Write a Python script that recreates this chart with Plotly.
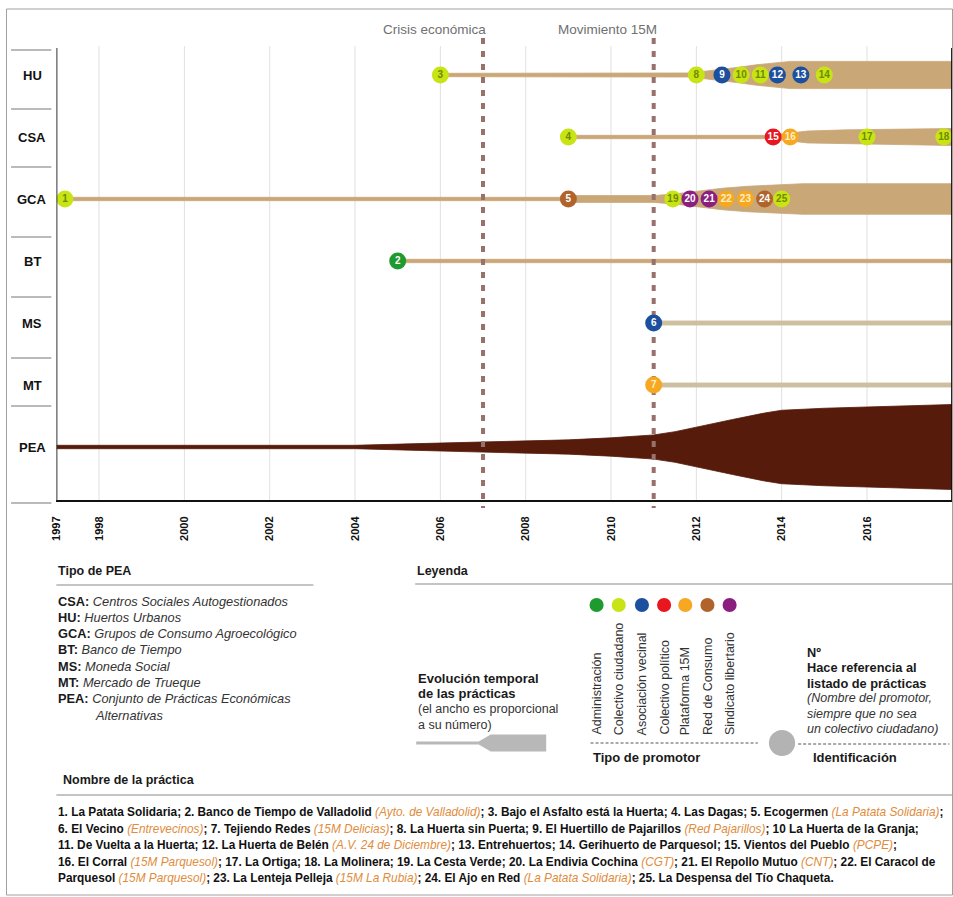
import plotly.graph_objects as go

W, H = 953, 897
FONT = "Liberation Sans, Arial, Helvetica, sans-serif"

# ---------------- data ----------------
rows = ["HU", "CSA", "GCA", "BT", "MS", "MT", "PEA"]
tick_years = [1997, 1998, 2000, 2002, 2004, 2006, 2008, 2010, 2012, 2014, 2016, 2018]
grid_years = [1998, 2000, 2002, 2004, 2006, 2008, 2010, 2012, 2014, 2016]
event_names = ["Crisis económica", "Movimiento 15M"]
event_years = [2007, 2011]

promoter_types = ["Administración", "Colectivo ciudadano", "Asociación vecinal",
                  "Colectivo político", "Plataforma 15M", "Red de Consumo",
                  "Sindicato libertario"]
promoter_colors = ["#1f9a2e", "#c8e414", "#1c4f9e", "#e8161f", "#f6a823",
                   "#b0642c", "#8b1f7f"]

practice_ids = list(range(1, 26))
practice_rows = ["GCA", "BT", "HU", "CSA", "GCA", "MS", "MT", "HU", "HU", "HU",
                 "HU", "HU", "HU", "HU", "CSA", "CSA", "CSA", "CSA", "GCA", "GCA",
                 "GCA", "GCA", "GCA", "GCA", "GCA"]
practice_years = [1997.2, 2005.0, 2006.0, 2009.0, 2009.0, 2011.0, 2011.0, 2012.0,
                  2012.6, 2013.05, 2013.5, 2013.9, 2014.45, 2015.0, 2013.8, 2014.2,
                  2016.0, 2017.8, 2011.45, 2011.85, 2012.3, 2012.7, 2013.15, 2013.6,
                  2014.0]
practice_promoters = [1, 0, 1, 1, 5, 2, 4, 1, 2, 1, 1, 2, 2, 1, 3, 4, 1, 1, 1, 6,
                      6, 4, 4, 5, 1]

# band profiles: year -> number of practices (band width)
hu_years = [2006, 2011.8, 2012.2, 2012.6, 2013.0, 2013.4, 2013.8, 2014.2, 2018]
hu_width = [1, 1.2, 2.2, 3.3, 4.6, 6.0, 7.2, 8.0, 8.0]
csa_years = [2009, 2013.7, 2014.1, 2014.6, 2015.5, 2016.5, 2018]
csa_width = [1, 1, 2, 3.5, 4.2, 4.5, 5]
gca_years = [1997.2, 2009, 2009.01, 2011.0, 2011.5, 2012.0, 2012.6, 2013.2, 2014.0, 2014.5, 2018]
gca_width = [1, 1, 2, 2, 3, 4.5, 6.3, 7.5, 8.5, 9, 9]
bt_years = [2005, 2018]
bt_width = [1, 1]
ms_years = [2011, 2018]
ms_width = [1.2, 1.2]
mt_years = [2011, 2018]
mt_width = [1.2, 1.2]
pea_years = [1997, 2004, 2005.5, 2007, 2008, 2009, 2010, 2011, 2011.5, 2012,
             2012.85, 2013.6, 2014, 2015, 2016, 2018]
pea_width = [1, 1, 2, 3, 3.4, 4.2, 5.4, 7.1, 9, 11.8, 16.2, 20, 21.6, 22.8, 23.5, 25]

tipo_pea = [("CSA", "Centros Sociales Autogestionados"),
            ("HU", "Huertos Urbanos"),
            ("GCA", "Grupos de Consumo Agroecológico"),
            ("BT", "Banco de Tiempo"),
            ("MS", "Moneda Social"),
            ("MT", "Mercado de Trueque"),
            ("PEA", "Conjunto de Prácticas Económicas")]

OR = "<span style='color:#e08c3c'><i>%s</i></span>"
practice_lines = [
    "<b>1. La Patata Solidaria; 2. Banco de Tiempo de Valladolid </b>" + OR % "(Ayto. de Valladolid)" +
    "<b>; 3. Bajo el Asfalto está la Huerta; 4. Las Dagas; 5. Ecogermen </b>" + OR % "(La Patata Solidaria)" + "<b>;</b>",
    "<b>6. El Vecino </b>" + OR % "(Entrevecinos)" + "<b>; 7. Tejiendo Redes </b>" + OR % "(15M Delicias)" +
    "<b>; 8. La Huerta sin Puerta; 9. El Huertillo de Pajarillos </b>" + OR % "(Red Pajarillos)" +
    "<b>; 10 La Huerta de la Granja;</b>",
    "<b>11. De Vuelta a la Huerta; 12. La Huerta de Belén </b>" + OR % "(A.V. 24 de Diciembre)" +
    "<b>; 13. Entrehuertos; 14. Gerihuerto de Parquesol; 15. Vientos del Pueblo </b>" + OR % "(PCPE)" + "<b>;</b>",
    "<b>16. El Corral </b>" + OR % "(15M Parquesol)" + "<b>; 17. La Ortiga; 18. La Molinera; 19. La Cesta Verde; 20. La Endivia Cochina </b>" +
    OR % "(CGT)" + "<b>; 21. El Repollo Mutuo </b>" + OR % "(CNT)" + "<b>; 22. El Caracol de</b>",
    "<b>Parquesol </b>" + OR % "(15M Parquesol)" + "<b>; 23. La Lenteja Pelleja </b>" + OR % "(15M La Rubia)" +
    "<b>; 24. El Ajo en Red </b>" + OR % "(La Patata Solidaria)" + "<b>; 25. La Despensa del Tío Chaqueta.</b>",
]

# ---------------- helpers ----------------
SX, OX = 0.986, 7.0           # horizontal correction of the photographed page


def px(x):
    return min(max((x - OX) / SX, 0.5), W - 0.5) / W


def py(y):
    return 1 - y / H


ROW0, STEP = 75, 62           # pixel row of HU and row spacing
def row_y(p):
    return (p - ROW0) / STEP


HALF = 3.4 / STEP / 2         # half band width per practice (in row units)
BAND = "#caa777"
BAND_LIGHT = "#cdbf9f"
PEA_COL = "#561b0b"

fig = go.Figure()

bands = [("HU", hu_years, hu_width, BAND), ("CSA", csa_years, csa_width, BAND),
         ("GCA", gca_years, gca_width, BAND), ("BT", bt_years, bt_width, BAND),
         ("MS", ms_years, ms_width, BAND_LIGHT), ("MT", mt_years, mt_width, BAND_LIGHT),
         ("PEA", pea_years, pea_width, PEA_COL)]
for name, yrs, wid, col in bands:
    r = rows.index(name)
    xs = list(yrs) + list(yrs)[::-1]
    ys = [r - w * HALF for w in wid] + [r + w * HALF for w in wid[::-1]]
    fig.add_trace(go.Scatter(x=xs, y=ys, mode="lines", fill="toself", fillcolor=col,
                             line=dict(color=col, width=0.8), hoverinfo="skip",
                             showlegend=False))

for yr in event_years:
    fig.add_trace(go.Scatter(x=[yr, yr], y=[row_y(38), row_y(508)], mode="lines",
                             line=dict(color="#97716a", width=4, dash="6px,7px"),
                             hoverinfo="skip", showlegend=False))

text_cols = []
for p in practice_promoters:
    if p == 1:
        text_cols.append("#6f8a00")
    elif p == 4:
        text_cols.append("#fff0c0")
    else:
        text_cols.append("#ffffff")

fig.add_trace(go.Scatter(
    x=practice_years, y=[rows.index(r) for r in practice_rows],
    mode="markers+text",
    marker=dict(size=17, color=[promoter_colors[p] for p in practice_promoters],
                line=dict(width=0)),
    text=[f"<b>{i}</b>" for i in practice_ids], textposition="middle center",
    textfont=dict(size=10, family=FONT, color=text_cols),
    hoverinfo="skip", showlegend=False))

shapes = []
# grid lines
for g in grid_years:
    shapes.append(dict(type="line", xref="x", yref="paper", x0=g, x1=g, y0=py(501), y1=py(46),
                       line=dict(color="#e0e0e0", width=1), layer="below"))
# frame lines of chart
shapes.append(dict(type="line", xref="x", yref="paper", x0=1997, x1=1997, y0=py(501), y1=py(48),
                   line=dict(color="#333333", width=2), layer="above"))
shapes.append(dict(type="line", xref="x", yref="paper", x0=2018, x1=2018, y0=py(501), y1=py(48),
                   line=dict(color="#111111", width=2.5), layer="above"))
# row label separators
for sy in [50, 109, 167, 237, 297, 358, 406, 503]:
    shapes.append(dict(type="line", xref="paper", yref="paper", x0=px(12), x1=px(52),
                       y0=py(sy), y1=py(sy), line=dict(color="#777777", width=1.2)))
# outer frame
shapes.append(dict(type="rect", xref="paper", yref="paper", x0=px(7), x1=px(951),
                   y0=py(895), y1=py(9), line=dict(color="#a0a0a0", width=1)))
# underlines
for x0, x1, yy in [(57, 312, 585), (413, 946, 584), (57, 948, 795)]:
    shapes.append(dict(type="line", xref="paper", yref="paper", x0=px(x0), x1=px(x1),
                       y0=py(yy), y1=py(yy), line=dict(color="#8a8a8a", width=1.2)))
# legend dots
dot_x = [593, 615, 638, 660, 681, 703, 725]
for cx, col in zip(dot_x, promoter_colors):
    shapes.append(dict(type="circle", xref="paper", yref="paper", x0=px(cx - 7), x1=px(cx + 7),
                       y0=py(605 + 7), y1=py(605 - 7), fillcolor=col, line=dict(width=0)))
# dashed lines legend
shapes.append(dict(type="line", xref="paper", yref="paper", x0=px(587), x1=px(753),
                   y0=py(743), y1=py(743), line=dict(color="#555555", width=1, dash="3px,2px")))
shapes.append(dict(type="line", xref="paper", yref="paper", x0=px(793), x1=px(943),
                   y0=py(744), y1=py(744), line=dict(color="#555555", width=1, dash="3px,2px")))
# gray circle
shapes.append(dict(type="circle", xref="paper", yref="paper", x0=px(764), x1=px(790),
                   y0=py(756), y1=py(730), fillcolor="#b3b3b3", line=dict(width=0)))
# taper
pts = [(414, 741.5), (476, 741.5), (488, 734.5), (543, 734.5), (543, 751.5), (488, 751.5),
       (476, 744.5), (414, 744.5)]
path = "M " + " L ".join(f"{px(a):.5f},{py(b):.5f}" for a, b in pts) + " Z"
shapes.append(dict(type="path", xref="paper", yref="paper", path=path,
                   fillcolor="#b8b8b8", line=dict(width=0)))

ann = []


def text(x, y, s, size=12, color="#1a1a1a", xanchor="left", **kw):
    ann.append(dict(x=px(x), y=py(y), xref="paper", yref="paper", text=s, showarrow=False,
                    xanchor=xanchor, yanchor="middle", font=dict(size=size, color=color, family=FONT),
                    **kw))


# row labels
for i, r in enumerate(rows):
    ann.append(dict(x=px(33), y=i, xref="paper", yref="y", text=f"<b>{r}</b>", showarrow=False,
                    xanchor="center", yanchor="middle", font=dict(size=13, color="#111", family=FONT)))
# event labels
for name, yr in zip(event_names, event_years):
    ann.append(dict(x=yr, y=py(30), xref="x", yref="paper", text=name, showarrow=False,
                    xanchor="right", yanchor="middle", xshift=5,
                    font=dict(size=13.5, color="#707070", family=FONT)))

# Tipo de PEA
text(57, 571, "<b>Tipo de PEA</b>", 12.5)
for k, (ab, desc) in enumerate(tipo_pea):
    text(57, 601 + k * 16.3, f"<b>{ab}:</b> <i><span style='color:#333'>{desc}</span></i>", 12.8)
text(93, 715, "<i><span style='color:#333'>Alternativas</span></i>", 12.8)

# Leyenda
text(413, 571, "<b>Leyenda</b>", 12.5)
for cx, lab in zip(dot_x, promoter_types):
    ann.append(dict(x=px(cx), y=py(737), xref="paper", yref="paper", text=lab, showarrow=False,
                    textangle=-90, xanchor="center", yanchor="bottom",
                    font=dict(size=12.5, color="#333", family=FONT)))
text(587, 757, "<b>Tipo de promotor</b>", 13)
text(806, 757, "<b>Identificación</b>", 13)
text(414, 678, "<b>Evolución temporal</b>", 13)
text(414, 693, "<b>de las prácticas</b>", 13)
text(414, 709, "(el ancho es proporcional", 12.5, "#333")
text(414, 725, "a su número)", 12.5, "#333")
text(800, 652, "<b>Nº</b>", 12.8)
text(800, 667, "<b>Hace referencia al</b>", 12.8)
text(800, 683, "<b>listado de prácticas</b>", 12.8)
text(800, 698, "<i>(Nombre del promotor,</i>", 12.5, "#333")
text(800, 714, "<i>siempre que no sea</i>", 12.5, "#333")
text(800, 729, "<i>un colectivo ciudadano)</i>", 12.5, "#333")

# Nombre de la práctica
text(62, 780, "<b>Nombre de la práctica</b>", 12.5)
for k, line in enumerate(practice_lines):
    text(57, 812 + k * 16.5, line, 11.85, "#111")

fig.update_layout(
    width=W, height=H, margin=dict(l=0, r=0, t=0, b=0),
    paper_bgcolor="white", plot_bgcolor="rgba(0,0,0,0)", showlegend=False,
    font=dict(family=FONT),
    xaxis=dict(domain=[px(57), px(946)], range=[1997, 2018], tickvals=tick_years,
               ticktext=[f"<b>{y}</b>" for y in tick_years], tickangle=-90,
               tickfont=dict(size=11, color="#111", family=FONT), showgrid=False,
               zeroline=False, showline=True, linecolor="#111", linewidth=2,
               anchor="free", position=py(501), ticks="", ticklabelstandoff=10,
               fixedrange=True),
    yaxis=dict(domain=[py(508), py(38)], range=[row_y(508), row_y(38)], visible=False,
               fixedrange=True),
    shapes=shapes, annotations=ann,
)

fig.write_html("out.html", config={"displayModeBar": False},
               post_script="document.body.style.margin='0px';document.body.style.overflow='hidden';")
